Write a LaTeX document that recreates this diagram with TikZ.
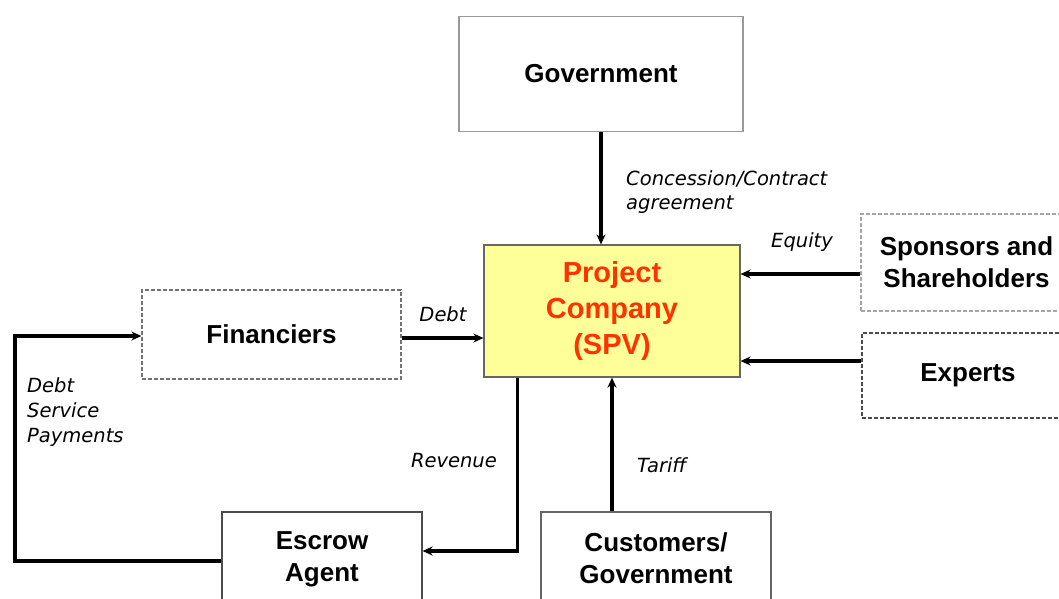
\documentclass[tikz,border=0pt]{standalone}
\usepackage{fontspec}
\setmainfont{Liberation Sans}
\newfontfamily\lblfont{DejaVu Sans}
\usetikzlibrary{arrows.meta,calc}
\definecolor{pcfill}{HTML}{FFFF99}
\definecolor{pctext}{HTML}{FF3300}
\begin{document}
\begin{tikzpicture}[x=1pt,y=-1pt,
  box/.style={draw=#1,line width=1.2pt,inner sep=0pt,align=center,
    font=\fontsize{26}{32}\selectfont\bfseries,text=black},
  solidbox/.style={box=#1},
  dashbox/.style={box=#1,dashed,dash pattern=on 4pt off 2pt},
  arr/.style={line width=3.2pt,line join=miter,-{Stealth[length=10pt,width=9pt]}},
  lbl/.style={font=\lblfont\itshape\fontsize{19.5}{24.5}\selectfont,inner sep=0pt,align=left}]
\useasboundingbox (0,0) rectangle (1059,598);
\fill[white] (0,0) rectangle (1059,598);
% nodes
\node[solidbox=black!40,minimum width=284pt,minimum height=115pt] (gov) at (601,74) {Government};
\node[draw=black!60,line width=1.2pt,fill=pcfill,minimum width=256pt,minimum height=132pt,
  align=center,text=pctext,font=\fontsize{29}{36}\selectfont\bfseries] (pc) at (612,311) {Project\\Company\\(SPV)};
\node[dashbox=black!55,minimum width=259pt,minimum height=89pt] (fin) at (271.5,334.5) {Financiers};
\node[dashbox=black!35,minimum width=211pt,minimum height=97pt] (spo) at (966.5,262.5) {Sponsors and\\Shareholders};
\node[dashbox=black!70,minimum width=212pt,minimum height=85pt] (exp) at (968,375.5) {Experts};
\node[solidbox=black!70,minimum width=200pt,minimum height=94pt] (esc) at (322,559) {Escrow\\Agent};
\node[solidbox=black!60,minimum width=230pt,minimum height=92pt] (cus) at (656,558) {Customers/\\Government};
% connectors
\draw[arr] (gov.south) -- (gov.south |- pc.north);
\draw[arr] ([yshift=-11.5pt]spo.west) -- ([yshift=-11.5pt]spo.west -| pc.east);
\draw[arr] ([yshift=14.5pt]exp.west) -- ([yshift=14.5pt]exp.west -| pc.east);
\draw[arr] ([yshift=-3.5pt]fin.east) -- ([yshift=-3.5pt]fin.east -| pc.west);
\draw[arr] (pc.south |- cus.north) -- (pc.south);
\coordinate (revtop) at ($(pc.south west)+(34,0)$);
\coordinate (escin) at ([yshift=8pt]esc.east);
\draw[arr] (revtop) |- (escin);
\coordinate (lcorner) at (15,336);
\draw[arr] ([yshift=-2pt]esc.west) -| (lcorner) -- (lcorner -| fin.west);
% labels
\node[lbl,anchor=west] (lconc) at (626,192) {Concession/Contract\\agreement};
\node[lbl] (leq) at (802,242) {Equity};
\node[lbl] (ldebt) at (443,314) {Debt};
\node[lbl,anchor=east] (lrev) at (497,461) {Revenue};
\node[lbl,anchor=west] (ltar) at (637,465) {Tariff};
\node[lbl,anchor=west,font=\lblfont\itshape\fontsize{19.5}{25}\selectfont] (ldsp) at (27,412) {Debt\\Service\\Payments};
\end{tikzpicture}
\end{document}
